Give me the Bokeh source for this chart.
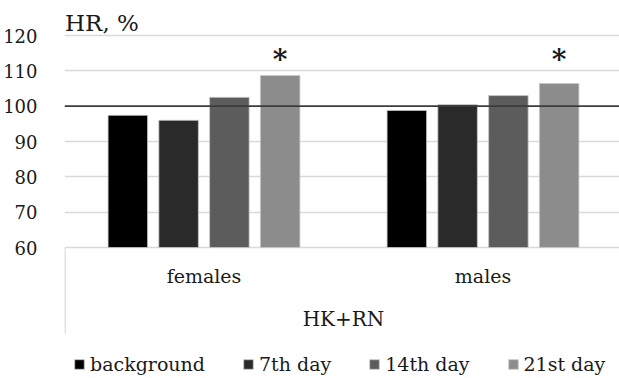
from bokeh.plotting import figure
from bokeh.models import Range1d, FixedTicker, Span, Legend, LegendItem, ColumnDataSource
from bokeh.core.properties import value
from bokeh.embed import file_html
from bokeh.resources import INLINE

# ---- data ----
groups = ["females", "males"]
series_names = ["background", "7th day", "14th day", "21st day"]
background = [97.4, 98.8]
day7 = [96.0, 100.4]
day14 = [102.5, 103.0]
day21 = [108.7, 106.4]
significant_21st = [True, True]
y_ticks = [60, 70, 80, 90, 100, 110, 120]
reference_level = 100
x_title = "HK+RN"
y_title = "HR, %"

series_values = [background, day7, day14, day21]
colors = ["#000000", "#2a2a2a", "#5c5c5c", "#8c8c8c"]

# ---- layout ----
W, H = 619, 378
LEFT = 64
px_per_cat = 279.0
px_per_unit = 212.0 / 60.0
top_px = 35.0
x_end = (W - LEFT) / px_per_cat
y_end = y_ticks[-1] + top_px / px_per_unit
y_start = y_end - H / px_per_unit
TEXT_SHIFT = 8


def y_at(px):
    return y_end - (px - TEXT_SHIFT) / px_per_unit


FONT = "DejaVu Serif"
TXT = "#1a1a1a"

p = figure(width=W, height=H, x_range=Range1d(0, x_end), y_range=Range1d(y_start, y_end),
           output_backend="svg", toolbar_location=None, x_axis_location=None,
           min_border_left=LEFT, min_border_right=0, min_border_top=0, min_border_bottom=0)
p.outline_line_color = None
p.xgrid.visible = False
p.ygrid.ticker = FixedTicker(ticks=[t for t in y_ticks if t != reference_level])
p.ygrid.grid_line_color = "#d9d9d9"
p.ygrid.grid_line_width = 1.5

ax = p.yaxis[0]
ax.ticker = FixedTicker(ticks=y_ticks)
ax.axis_line_color = None
ax.major_tick_line_color = None
ax.minor_tick_line_color = None
ax.major_label_standoff = 21
ax.major_label_text_font = FONT
ax.major_label_text_font_size = "18px"
ax.major_label_text_color = TXT

bar_w = 0.1416
step = 0.182
renderers = []
for i, (name, vals) in enumerate(zip(series_names, series_values)):
    xs = [g + 0.5 + (i - 1.5) * step for g in range(len(groups))]
    src = ColumnDataSource(dict(x=xs, top=vals))
    r = p.vbar(x="x", top="top", bottom=y_ticks[0], width=bar_w, source=src,
               fill_color=colors[i], line_color="#c8c8c8", line_width=0.8)
    renderers.append(r)

p.add_layout(Span(location=reference_level, dimension="width", line_color="#3c3c3c", line_width=1.6))

ast_x = [g + 0.5 + 1.5 * step for g, s in enumerate(significant_21st) if s]
p.text(x=ast_x, y=[y_at(67)] * len(ast_x), text=["*"] * len(ast_x), text_align="center",
       text_baseline="alphabetic", text_font=value(FONT), text_font_size="28px",
       text_font_style="bold", text_color=TXT)

p.text(x=[g + 0.5 for g in range(len(groups))], y=[y_at(283)] * len(groups), text=groups,
       text_align="center", text_baseline="alphabetic", text_font=value(FONT),
       text_font_size="19px", text_color=TXT)
p.text(x=[len(groups) / 2], y=[y_at(326)], text=[x_title], text_align="center",
       text_baseline="alphabetic", text_font=value(FONT), text_font_size="20px", text_color=TXT)

p.segment(x0=[0.002], y0=[y_ticks[0]], x1=[0.002], y1=[y_end - 333 / px_per_unit],
          line_color="#d9d9d9", line_width=1.5)

p.text(x=[0.002], y=[y_at(30)], text=[y_title], text_align="left",
       text_baseline="alphabetic", text_font=value(FONT), text_font_size="23px", text_color=TXT)

legend = Legend(items=[LegendItem(label=n, renderers=[r]) for n, r in zip(series_names, renderers)],
                orientation="horizontal", location=(9, 3), padding=0, margin=0, spacing=37,
                glyph_width=12, glyph_height=12, label_standoff=5,
                label_text_font=FONT, label_text_font_size="19px", label_text_color=TXT,
                border_line_color=None, background_fill_alpha=0)
p.add_layout(legend)

open("out.html", "w").write(file_html(p, INLINE))
